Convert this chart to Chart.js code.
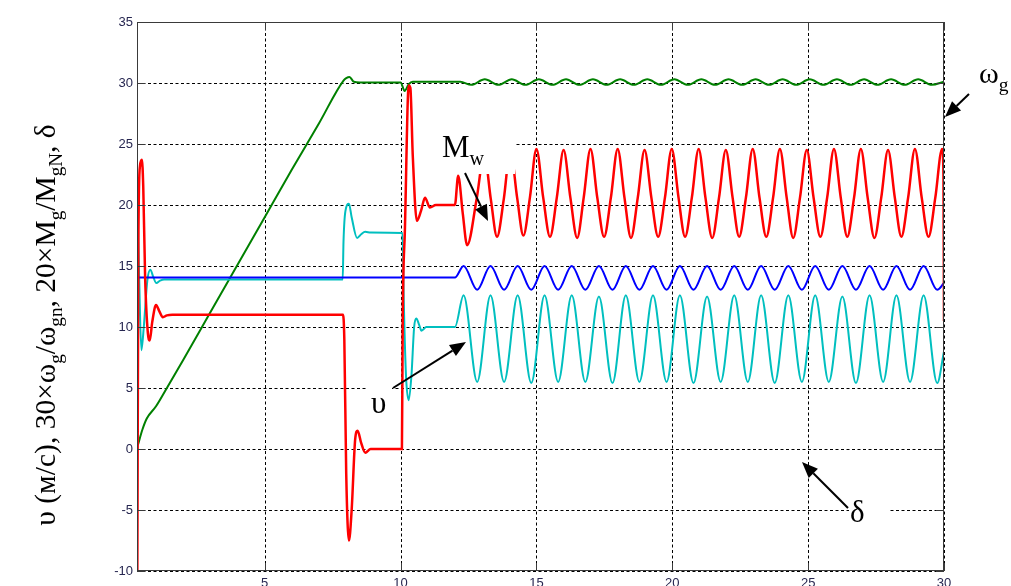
<!DOCTYPE html>
<html>
<head>
<meta charset="utf-8">
<script src="https://cdn.jsdelivr.net/npm/chart.js"></script>
<style>
  body { margin: 0; background: #fff; }
  canvas { display: block; }
</style>
</head>
<body>
<canvas id="simChart" width="1011" height="586"></canvas>
<script>

// time axis, seconds
var xTicks = [5, 10, 15, 20, 25, 30];
var yTicks = [-10, -5, 0, 5, 10, 15, 20, 25, 30, 35];

// M_w (red) : [t, value]
var redPts = [
    [0.31, -12], [0.35, 17], [0.41, 23.2], [0.48, 23.7], [0.53, 21.5], [0.6, 14], [0.7, 9.5], [0.77, 8.9],
    [0.86, 10.4], [1.0, 11.8], [1.12, 11.3], [1.25, 10.8], [1.4, 10.95], [1.6, 11.0],
    [7.88, 11.0], [7.93, 9], [8.0, -2], [8.1, -7.5], [8.2, -5], [8.33, 0.8], [8.42, 1.5], [8.55, 0.5],
    [8.7, -0.3], [8.9, 0.0],
    [10.05, 0.0], [10.08, 10.8], [10.16, 18], [10.3, 29.8], [10.36, 29.6], [10.45, 24], [10.6, 18.7],
    [10.75, 19.5], [10.9, 20.6], [11.08, 19.8], [11.3, 20.0], [12.0, 20.0],
    [12.12, 22.4], [12.29, 19.3], [12.45, 16.7], [12.8, 20.5],
    [13.08, 24.2], [13.32, 20.5], [13.55, 17.4], [13.8, 20.5],
    [14.04, 24.5], [14.29, 20.6], [14.52, 17.5], [14.76, 20.6],
    [15.00, 24.6], [15.25, 20.6], [15.50, 17.4], [15.75, 20.6],
    [16.00, 24.5], [16.25, 20.6], [16.50, 17.3], [16.74, 20.6],
    [16.99, 24.6], [17.24, 20.6], [17.49, 17.4], [17.74, 20.6],
    [17.99, 24.6], [18.24, 20.6], [18.48, 17.3], [18.73, 20.6],
    [18.98, 24.5], [19.23, 20.6], [19.48, 17.4], [19.73, 20.6],
    [19.98, 24.6], [20.23, 20.6], [20.47, 17.4], [20.72, 20.6],
    [20.97, 24.6], [21.22, 20.6], [21.47, 17.3], [21.72, 20.6],
    [21.97, 24.5], [22.22, 20.6], [22.46, 17.4], [22.71, 20.6],
    [22.96, 24.6], [23.21, 20.6], [23.46, 17.4], [23.71, 20.6],
    [23.96, 24.6], [24.21, 20.6], [24.45, 17.3], [24.70, 20.6],
    [24.95, 24.5], [25.20, 20.6], [25.45, 17.4], [25.70, 20.6],
    [25.95, 24.6], [26.20, 20.6], [26.44, 17.4], [26.69, 20.6],
    [26.94, 24.6], [27.19, 20.6], [27.44, 17.3], [27.69, 20.6],
    [27.94, 24.5], [28.19, 20.6], [28.43, 17.4], [28.68, 20.6],
    [28.93, 24.6], [29.18, 20.6], [29.43, 17.4], [29.68, 20.6],
    [29.93, 24.6], [29.98, 22.5], [30.0, 10.5]
];

// omega_g (green)
var greenPts = [
    [0.33, 0.3], [0.5, 1.6], [0.66, 2.5], [1.0, 3.5], [1.4, 5.0], [2.0, 7.3], [3.0, 11.2], [4.0, 15.1],
    [5.0, 19.0], [6.0, 22.9], [7.0, 26.7], [7.9, 30.2], [8.0, 30.4], [8.12, 30.5], [8.28, 30.1], [8.5, 30.05],
    [10.0, 30.05], [10.15, 29.35], [10.3, 29.9], [10.45, 30.1], [12.2, 30.1],
    [12.6, 29.85], [13.10, 30.3], [13.6, 29.85], [14.09, 30.3], [14.59, 29.85], [15.09, 30.3],
    [15.59, 29.85], [16.09, 30.3], [16.58, 29.85], [17.08, 30.3], [17.58, 29.85], [18.08, 30.3],
    [18.58, 29.85], [19.08, 30.3], [19.58, 29.85], [20.08, 30.3], [20.57, 29.85], [21.07, 30.3],
    [21.57, 29.85], [22.07, 30.3], [22.57, 29.85], [23.07, 30.3], [23.56, 29.85], [24.06, 30.3],
    [24.56, 29.85], [25.06, 30.3], [25.56, 29.85], [26.06, 30.3], [26.56, 29.85], [27.06, 30.3],
    [27.55, 29.85], [28.05, 30.3], [28.55, 29.85], [29.05, 30.3], [29.55, 29.85], [30.0, 30.1]
];

// delta (blue)
var bluePts = [
    [0.31, 14.05], [12.0, 14.05],
    [12.32, 15.0], [12.82, 13.05], [13.31, 15.0], [13.81, 13.05], [14.31, 15.0], [14.81, 13.05],
    [15.30, 15.0], [15.80, 13.05], [16.30, 15.0], [16.80, 13.05], [17.30, 15.0], [17.80, 13.05],
    [18.29, 15.0], [18.79, 13.05], [19.29, 15.0], [19.79, 13.05], [20.28, 15.0], [20.78, 13.05],
    [21.28, 15.0], [21.78, 13.05], [22.28, 15.0], [22.78, 13.05], [23.27, 15.0], [23.77, 13.05],
    [24.27, 15.0], [24.77, 13.05], [25.26, 15.0], [25.76, 13.05], [26.26, 15.0], [26.76, 13.05],
    [27.26, 15.0], [27.76, 13.05], [28.25, 15.0], [28.75, 13.05], [29.25, 15.0], [29.75, 13.05],
    [30.0, 13.6]
];

// upsilon, wind speed (cyan)
var cyanPts = [
    [0.31, 20.7], [0.38, 14], [0.46, 8.1], [0.55, 10], [0.68, 13.8], [0.79, 14.7], [0.9, 14.1],
    [1.01, 13.6], [1.15, 13.8], [1.3, 13.9], [7.87, 13.9], [7.9, 17], [7.97, 19.5], [8.1, 20.1],
    [8.2, 19.0], [8.4, 17.3], [8.55, 17.6], [8.7, 17.8], [8.9, 17.75], [10.07, 17.7], [10.12, 12],
    [10.2, 6], [10.3, 4.0], [10.4, 6], [10.5, 10.0], [10.58, 10.7], [10.68, 10.2], [10.77, 9.7],
    [10.95, 10.0], [12.0, 10.0],
    [12.32, 12.6], [12.82, 5.5], [13.31, 12.6], [13.81, 5.5], [14.31, 12.6], [14.81, 5.4],
    [15.30, 12.6], [15.80, 5.5], [16.30, 12.6], [16.80, 5.5], [17.30, 12.5], [17.80, 5.4],
    [18.29, 12.6], [18.79, 5.5], [19.29, 12.6], [19.79, 5.5], [20.28, 12.6], [20.78, 5.4],
    [21.28, 12.5], [21.78, 5.5], [22.28, 12.6], [22.78, 5.5], [23.27, 12.6], [23.77, 5.4],
    [24.27, 12.6], [24.77, 5.5], [25.26, 12.6], [25.76, 5.5], [26.26, 12.5], [26.76, 5.4],
    [27.26, 12.6], [27.76, 5.5], [28.25, 12.6], [28.75, 5.5], [29.25, 12.6], [29.75, 5.4],
    [30.0, 8.0]
];

function toXY(pts) {
    return pts.map(function (p) { return {x: p[0], y: p[1]}; });
}

var SERIF = '"Liberation Serif", "Times New Roman", serif';

// text with subscripts: parts = [[text, isSub], ...]
function drawRich(ctx, parts, size, x, y, center) {
    var widths = parts.map(function (p) {
        ctx.font = (p[1] ? size * 0.65 : size) + 'px ' + SERIF;
        return ctx.measureText(p[0]).width;
    });
    var total = widths.reduce(function (a, b) { return a + b; }, 0);
    var cx = center ? x - total / 2 : x;
    ctx.textAlign = 'left';
    ctx.textBaseline = 'alphabetic';
    parts.forEach(function (p, i) {
        ctx.font = (p[1] ? size * 0.65 : size) + 'px ' + SERIF;
        ctx.fillText(p[0], cx, p[1] ? y + size * 0.25 : y);
        cx += widths[i];
    });
}

function arrow(ctx, x1, y1, x2, y2) {
    var ang = Math.atan2(y2 - y1, x2 - x1);
    var len = 16, half = 6.5;
    var bx = x2 - len * Math.cos(ang), by = y2 - len * Math.sin(ang);
    ctx.beginPath();
    ctx.moveTo(x1, y1);
    ctx.lineTo(bx, by);
    ctx.lineWidth = 2;
    ctx.strokeStyle = '#000';
    ctx.stroke();
    ctx.beginPath();
    ctx.moveTo(x2, y2);
    ctx.lineTo(bx + half * Math.sin(ang), by - half * Math.cos(ang));
    ctx.lineTo(bx - half * Math.sin(ang), by + half * Math.cos(ang));
    ctx.closePath();
    ctx.fillStyle = '#000';
    ctx.fill();
}

var decorPlugin = {
    id: 'decor',
    beforeDatasetsDraw: function (chart) {
        var ctx = chart.ctx;
        var a = chart.chartArea;
        var xs = chart.scales.x, ys = chart.scales.y;
        ctx.save();
        // dashed grid from the scales
        ctx.strokeStyle = '#000';
        ctx.lineWidth = 1;
        ctx.setLineDash([3, 2.5]);
        ctx.beginPath();
        xTicks.forEach(function (v) {
            var px = Math.round(xs.getPixelForValue(v)) + 0.5;
            ctx.moveTo(px, a.top); ctx.lineTo(px, a.bottom);
        });
        yTicks.forEach(function (v) {
            var py = Math.round(ys.getPixelForValue(v)) + 0.5;
            ctx.moveTo(a.left, py); ctx.lineTo(a.right, py);
        });
        ctx.stroke();
        ctx.setLineDash([]);

        ctx.fillStyle = '#fff';
        ctx.fillRect(404, 118, 111, 57);   // behind M_w
        ctx.fillRect(367, 378, 25, 42);    // behind upsilon
        ctx.fillRect(849, 492, 39, 32);    // behind delta
        ctx.restore();
    },
    afterDatasetsDraw: function (chart) {
        var ctx = chart.ctx;
        var a = chart.chartArea;
        var xs = chart.scales.x, ys = chart.scales.y;
        ctx.save();
        ctx.fillStyle = '#fff';
        ctx.fillRect(428, 118, 87, 56);

        // frame and inward ticks
        ctx.strokeStyle = '#3a3a3a';
        ctx.lineWidth = 1;
        ctx.strokeRect(a.left + 0.5, a.top + 0.5, a.right - a.left - 1, a.bottom - a.top - 1);
        ctx.beginPath();
        xTicks.forEach(function (v) {
            var px = Math.round(xs.getPixelForValue(v)) + 0.5;
            ctx.moveTo(px, a.bottom); ctx.lineTo(px, a.bottom - 8);
            ctx.moveTo(px, a.top); ctx.lineTo(px, a.top + 8);
        });
        yTicks.forEach(function (v) {
            var py = Math.round(ys.getPixelForValue(v)) + 0.5;
            ctx.moveTo(a.left, py); ctx.lineTo(a.left + 8, py);
            ctx.moveTo(a.right, py); ctx.lineTo(a.right - 8, py);
        });
        ctx.stroke();

        // annotations
        ctx.fillStyle = '#000';
        drawRich(ctx, [['ω', 0], ['g', 1]], 30, 979, 83, false);
        arrow(ctx, 969, 94, 945, 117);
        drawRich(ctx, [['M', 0], ['w', 1]], 31, 442, 157, false);
        arrow(ctx, 465, 173, 488, 221);
        drawRich(ctx, [['υ', 0]], 31, 371, 413, false);
        arrow(ctx, 393, 388, 466, 342);
        drawRich(ctx, [['δ', 0]], 31, 850, 522, false);
        arrow(ctx, 848, 508, 802, 462);

        // y axis title
        ctx.translate(55, 325);
        ctx.rotate(-Math.PI / 2);
        drawRich(ctx, [['υ (м/с), 30×ω', 0], ['g', 1], ['/ω', 0], ['gn', 1], [', 20×M', 0], ['g', 1],
            ['/M', 0], ['gN', 1], [', δ', 0]], 29.5, 0, 0, true);
        ctx.restore();
    }
};

var ctx = document.getElementById('simChart').getContext('2d');
var simChart = new Chart(ctx, {
    type: 'line',
    data: {
        datasets: [
            {label: 'M_w', data: toXY(redPts), borderColor: '#ff0000', borderWidth: 2.5},
            {label: 'delta', data: toXY(bluePts), borderColor: '#0000ff'},
            {label: 'upsilon', data: toXY(cyanPts), borderColor: '#00bfbf'},
            {label: 'omega_g', data: toXY(greenPts), borderColor: '#008000'}
        ]
    },
    options: {
        responsive: false,
        animation: false,
        events: [],
        datasets: {
            line: {
                borderWidth: 2,
                pointRadius: 0,
                fill: false,
                cubicInterpolationMode: 'monotone'
            }
        },
        layout: {
            autoPadding: false,
            padding: {top: 22, right: 67, left: 0, bottom: 0}
        },
        plugins: {
            legend: {display: false},
            tooltip: {enabled: false}
        },
        scales: {
            x: {
                type: 'linear',
                min: 0.3,
                max: 30,
                afterBuildTicks: function (s) {
                    s.ticks = xTicks.map(function (v) { return {value: v}; });
                },
                afterFit: function (s) { s.height = 15; },
                grid: {display: false, drawTicks: false},
                border: {display: false},
                ticks: {
                    padding: 5,
                    color: '#262650',
                    font: {family: '"Liberation Sans", Arial, sans-serif', size: 13},
                    maxRotation: 0
                }
            },
            y: {
                min: -10,
                max: 35,
                afterBuildTicks: function (s) {
                    s.ticks = yTicks.map(function (v) { return {value: v}; });
                },
                afterFit: function (s) { s.width = 137; },
                grid: {display: false, drawTicks: false},
                border: {display: false},
                ticks: {
                    padding: 4,
                    color: '#262650',
                    font: {family: '"Liberation Sans", Arial, sans-serif', size: 13}
                }
            }
        }
    },
    plugins: [decorPlugin]
});

</script>
</body>
</html>
